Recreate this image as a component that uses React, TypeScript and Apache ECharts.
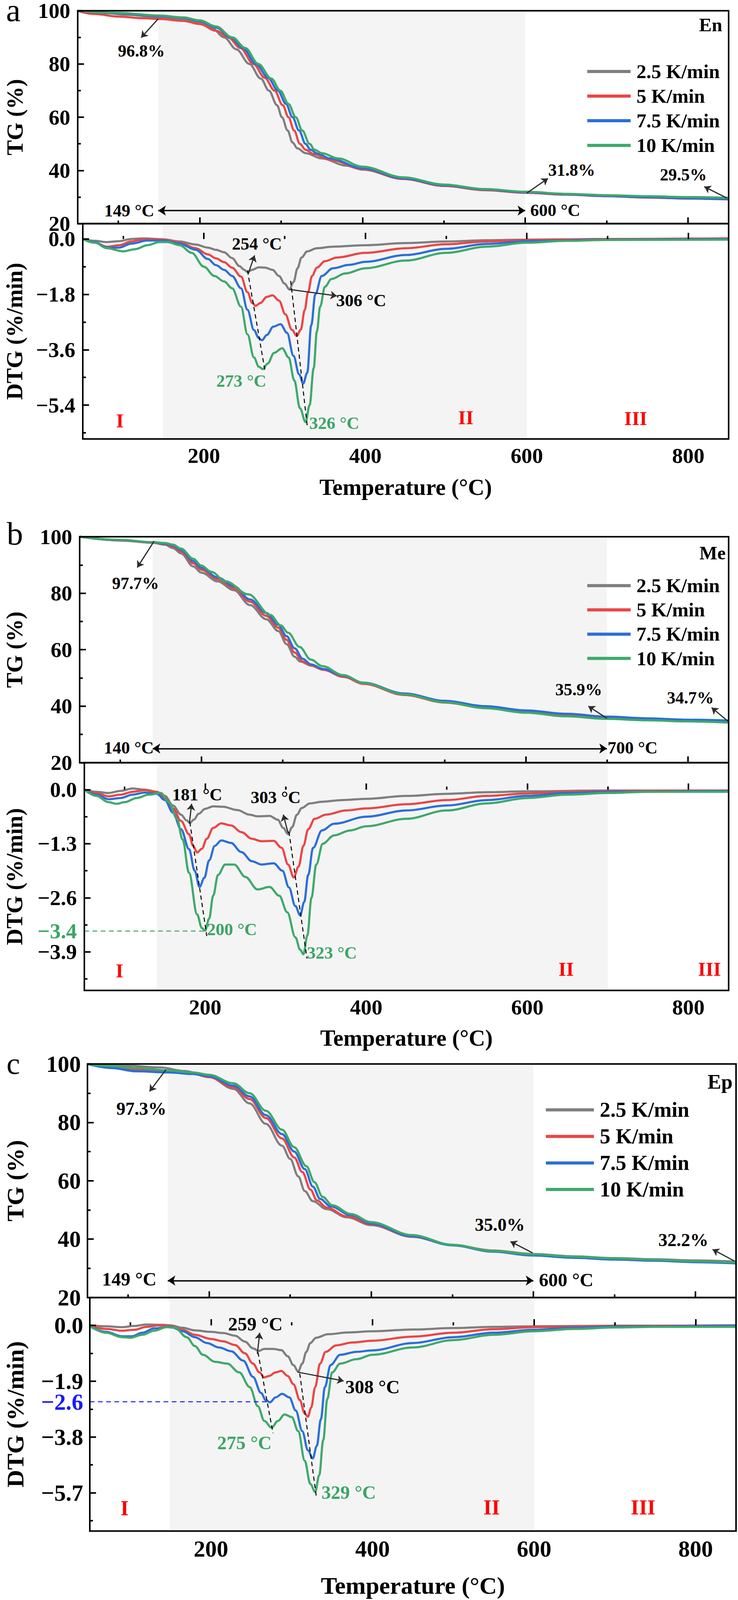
import React, { useEffect, useRef, useState } from "react";
import * as echarts from "echarts";

type Pt = [number, number];

const FONT = '"Times New Roman", "Liberation Serif", "DejaVu Serif", serif';
const REF_W = 1890;
const REF_H = 4221;
const RATES = ["2.5 K/min", "5 K/min", "7.5 K/min", "10 K/min"];
const RATE_COLORS = ["#7f7f7f", "#ec4545", "#2b6fd8", "#3ea96b"];
const GREEN_TXT = "#3aa565";
const X_MAJOR = [200, 400, 600, 800];
const X_MINOR = [100, 300, 500, 700];
const TG_TICKS = { min: 20, max: 100, interval: 20 };

// ---------- En (a) ----------
const EN_TG_25: Pt[] = [[50,100],[80,99.3],[110,98.5],[150,97.6],[180,96.8],[200,95.6],[215,93.5],[230,90],[245,85.5],[261,80],[275,74.5],[285,70],[295,64.5],[301,60],[308,55],[314,50.5],[320,48.3],[330,46.5],[350,44.5],[380,41.8],[400,40.3],[450,36.8],[500,34.2],[550,32.7],[600,31.7],[650,31],[700,30.4],[750,29.9],[800,29.5],[850,29.2]];
const EN_TG_5: Pt[] = [[50,100],[70,98.8],[100,97.8],[130,97.2],[150,96.9],[180,96.2],[200,95],[220,92.5],[235,90],[250,86],[266,80],[280,74.8],[292,70],[302,64.5],[309,60],[316,55],[323,50],[330,47.8],[340,46.2],[360,44],[400,40.5],[450,36.8],[500,34.2],[550,32.6],[600,31.6],[650,30.9],[700,30.3],[750,29.8],[800,29.4],[850,29.1]];
const EN_TG_75: Pt[] = [[50,100],[100,99],[150,98],[180,97.3],[200,96.1],[220,93.7],[238,90],[253,86],[269,80],[284,74.8],[296,70],[306,65],[314,60],[322,55],[330,50],[336,47.8],[345,46.3],[360,44.5],[400,40.8],[450,37],[500,34.4],[550,32.8],[600,31.8],[650,31],[700,30.4],[750,29.9],[800,29.5],[850,29.2]];
const EN_TG_10: Pt[] = [[50,100],[100,99.2],[150,98.2],[180,97.5],[200,96.4],[220,94.1],[240,90],[256,86],[272,80],[288,74.5],[299,70],[309,65],[318,60],[326,55],[335,50],[341,47.8],[350,46.5],[370,44.5],[400,41.4],[450,37.4],[500,34.7],[550,33],[600,32],[650,31.2],[700,30.7],[750,30.3],[800,30],[850,29.7]];

const EN_DTG_25: Pt[] = [[50,0],[65,-0.06],[80,-0.1],[95,-0.07],[110,0],[125,0.02],[150,-0.01],[170,-0.08],[190,-0.18],[205,-0.28],[215,-0.35],[225,-0.43],[235,-0.62],[244,-0.88],[250,-1.0],[254,-1.07],[260,-1.0],[268,-0.92],[276,-0.93],[285,-1.0],[293,-1.2],[300,-1.45],[306,-1.64],[311,-1.4],[316,-0.95],[321,-0.6],[328,-0.4],[340,-0.3],[360,-0.25],[400,-0.2],[450,-0.13],[500,-0.08],[550,-0.04],[600,-0.02],[700,0],[850,0.01]];
const EN_DTG_5: Pt[] = [[50,0],[65,-0.12],[80,-0.25],[95,-0.2],[110,-0.08],[125,-0.01],[140,0],[150,-0.02],[170,-0.12],[190,-0.3],[205,-0.5],[215,-0.63],[225,-0.75],[235,-0.93],[246,-1.22],[254,-1.73],[260,-2.08],[264,-2.17],[270,-2.08],[278,-1.88],[285,-1.83],[293,-2.0],[301,-2.45],[309,-2.95],[315,-3.15],[320,-2.95],[325,-2.3],[329,-1.73],[334,-1.2],[340,-0.93],[350,-0.72],[365,-0.6],[400,-0.45],[450,-0.3],[500,-0.17],[550,-0.08],[600,-0.03],[700,0],[850,0.02]];
const EN_DTG_75: Pt[] = [[50,0],[65,-0.1],[80,-0.28],[95,-0.28],[110,-0.15],[130,-0.05],[150,-0.05],[170,-0.15],[190,-0.35],[205,-0.65],[215,-0.85],[225,-1.0],[235,-1.2],[246,-1.6],[254,-2.3],[262,-2.96],[268,-3.22],[272,-3.29],[278,-3.12],[286,-2.85],[295,-2.77],[303,-3.05],[311,-3.8],[318,-4.4],[323,-4.7],[328,-4.35],[333,-2.8],[338,-1.8],[346,-1.2],[360,-0.95],[380,-0.84],[400,-0.74],[450,-0.52],[500,-0.32],[550,-0.16],[600,-0.07],[700,-0.02],[850,0]];
const EN_DTG_10: Pt[] = [[50,0],[65,-0.12],[80,-0.3],[100,-0.4],[115,-0.33],[130,-0.2],[145,-0.1],[155,-0.1],[170,-0.2],[185,-0.45],[200,-0.9],[213,-1.2],[225,-1.38],[235,-1.6],[246,-2.2],[254,-3.1],[262,-3.85],[268,-4.15],[273,-4.23],[279,-4.05],[287,-3.7],[297,-3.55],[305,-3.85],[312,-4.6],[319,-5.5],[326,-5.95],[331,-5.4],[336,-4.2],[340,-3.0],[344,-2.2],[350,-1.55],[358,-1.3],[375,-1.12],[400,-0.95],[450,-0.7],[500,-0.45],[550,-0.25],[600,-0.12],[650,-0.06],[700,-0.03],[850,-0.02]];
const EN_DTG_MAJOR = [0, -1.8, -3.6, -5.4];
const EN_DTG_MINOR = [-0.9, -2.7, -4.5, -6.3];

// ---------- Me (b) ----------
const ME_TG_25: Pt[] = [[50,100],[100,98.7],[140,97.9],[155,97.2],[165,96],[175,94.1],[190,89.5],[200,87.3],[220,84.2],[240,81.1],[260,75.8],[280,70.8],[295,66.6],[305,62],[315,57.5],[322,55.8],[335,54.4],[350,53],[375,50.5],[400,48],[450,44],[500,41.4],[550,39.5],[600,37.9],[650,36.7],[700,35.8],[750,35.2],[800,34.8],[850,34.5]];
const ME_TG_5: Pt[] = [[50,100],[100,98.7],[140,97.9],[155,97.4],[165,96.5],[175,94.8],[190,90.6],[200,88.3],[220,85],[240,81.8],[260,77],[280,72],[295,67.8],[305,63.5],[315,59],[325,55.8],[335,54.4],[350,52.9],[375,50.4],[400,47.9],[450,44],[500,41.3],[550,39.4],[600,37.8],[650,36.6],[700,35.7],[750,35.1],[800,34.7],[850,34.4]];
const ME_TG_75: Pt[] = [[50,100],[100,98.8],[140,98],[155,97.6],[165,96.9],[175,95.3],[190,91.4],[200,89],[220,85.6],[240,82.5],[260,77.8],[280,73],[295,68.8],[305,64.8],[315,60.5],[325,56.8],[335,54.8],[350,53.2],[375,50.8],[400,48.3],[450,44.5],[500,41.9],[550,40],[600,38.5],[650,37.3],[700,36.3],[750,35.7],[800,35.2],[850,34.9]];
const ME_TG_10: Pt[] = [[50,100],[100,98.9],[140,98.1],[155,97.8],[165,97.2],[175,95.8],[190,92.2],[200,89.8],[212,87.6],[230,84.2],[258,79.6],[285,72.3],[298,68.6],[307,66],[321,61],[335,56.5],[349,54.2],[375,51],[400,48.2],[450,44.2],[500,41.4],[550,39.3],[600,37.7],[650,36.4],[700,35.5],[750,35],[800,34.6],[850,34.2]];

const ME_DTG_25: Pt[] = [[50,0],[65,-0.05],[80,-0.08],[95,-0.03],[110,0.03],[125,0],[140,-0.05],[150,-0.15],[160,-0.38],[170,-0.6],[177,-0.74],[181,-0.8],[186,-0.72],[192,-0.58],[200,-0.46],[210,-0.4],[222,-0.41],[240,-0.49],[255,-0.6],[265,-0.64],[280,-0.63],[290,-0.72],[297,-0.92],[303,-1.07],[308,-0.9],[314,-0.6],[320,-0.44],[330,-0.33],[345,-0.29],[370,-0.25],[400,-0.22],[450,-0.15],[500,-0.1],[550,-0.06],[600,-0.04],[700,-0.02],[850,-0.02]];
const ME_DTG_5: Pt[] = [[50,0],[65,-0.08],[80,-0.16],[95,-0.12],[110,-0.05],[125,-0.01],[140,-0.06],[150,-0.2],[160,-0.45],[170,-0.75],[180,-1.07],[185,-1.35],[190,-1.51],[196,-1.42],[202,-1.18],[210,-0.92],[220,-0.81],[232,-0.86],[245,-1.02],[258,-1.18],[270,-1.24],[285,-1.23],[295,-1.4],[303,-1.8],[310,-2.11],[316,-1.85],[322,-1.35],[328,-0.95],[336,-0.7],[350,-0.6],[375,-0.5],[400,-0.45],[450,-0.35],[500,-0.25],[550,-0.15],[600,-0.09],[650,-0.05],[700,-0.03],[850,-0.02]];
const ME_DTG_75: Pt[] = [[50,0],[65,-0.12],[80,-0.23],[95,-0.2],[110,-0.12],[125,-0.07],[140,-0.1],[150,-0.25],[160,-0.55],[170,-0.95],[180,-1.43],[187,-1.95],[193,-2.34],[199,-2.12],[205,-1.7],[212,-1.35],[220,-1.22],[232,-1.28],[245,-1.5],[258,-1.72],[270,-1.8],[285,-1.77],[296,-1.95],[304,-2.35],[312,-2.8],[318,-3.02],[323,-2.7],[328,-2.05],[334,-1.4],[345,-0.98],[360,-0.82],[400,-0.65],[450,-0.5],[500,-0.38],[550,-0.25],[600,-0.15],[650,-0.08],[700,-0.05],[850,-0.03]];
const ME_DTG_10: Pt[] = [[50,0],[65,-0.15],[80,-0.3],[90,-0.34],[100,-0.3],[115,-0.2],[130,-0.12],[145,-0.08],[155,-0.3],[165,-0.7],[172,-1.2],[180,-2.0],[190,-3.0],[196,-3.33],[200,-3.39],[205,-3.1],[210,-2.55],[216,-2.05],[225,-1.8],[236,-1.8],[250,-2.1],[265,-2.4],[280,-2.34],[292,-2.55],[302,-2.95],[312,-3.55],[318,-3.85],[322,-3.96],[327,-3.5],[332,-2.6],[338,-1.8],[346,-1.3],[360,-1.1],[380,-0.98],[400,-0.88],[450,-0.7],[500,-0.5],[550,-0.33],[600,-0.2],[650,-0.12],[700,-0.08],[750,-0.05],[850,-0.05]];
const ME_DTG_MAJOR = [0, -1.3, -2.6, -3.9];
const ME_DTG_MINOR = [-0.65, -1.95, -3.25, -4.55];

// ---------- Ep (c) ----------
const EP_TG_25: Pt[] = [[50,100],[100,99.4],[140,98.8],[170,97.6],[200,95.6],[230,91.5],[250,86.5],[270,79.5],[290,72],[300,67.5],[310,61.5],[318,56.5],[328,53],[345,50.3],[370,47.5],[400,44.8],[450,40.8],[500,38],[550,36.1],[600,34.9],[650,34.1],[700,33.5],[750,33.1],[800,32.7],[850,32.3]];
const EP_TG_5: Pt[] = [[50,100],[80,98.9],[110,98],[150,97.3],[180,96.6],[200,95.5],[230,92],[250,88],[270,81.5],[290,74.5],[305,68],[315,63],[325,57],[333,53.3],[345,50.8],[370,47.8],[400,45],[450,40.9],[500,38],[550,35.9],[600,34.7],[650,33.9],[700,33.3],[750,32.8],[800,32.3],[850,31.8]];
const EP_TG_75: Pt[] = [[50,100],[80,98.6],[110,97.5],[150,97.1],[180,96.6],[200,95.8],[230,92.6],[250,88.9],[270,82.5],[290,76],[305,70],[318,64],[328,58],[337,53.8],[350,51.2],[375,48.2],[400,45.3],[450,41],[500,37.9],[550,35.7],[600,34.4],[650,33.6],[700,33],[750,32.6],[800,32.1],[850,31.7]];
const EP_TG_10: Pt[] = [[50,100],[80,99.3],[110,98.6],[150,97.8],[180,97.1],[200,96.3],[230,93.4],[250,90],[270,84],[290,77.5],[305,71.5],[320,65],[330,59.5],[340,54.5],[352,51.6],[375,48.6],[400,45.8],[450,41.4],[500,38.1],[550,35.9],[600,34.8],[650,34],[700,33.4],[750,32.9],[800,32.4],[850,32]];

const EP_DTG_25: Pt[] = [[50,0],[70,-0.03],[90,-0.06],[105,-0.02],[120,0.03],[140,0.02],[150,0],[165,-0.08],[180,-0.17],[200,-0.22],[215,-0.26],[230,-0.35],[242,-0.55],[252,-0.78],[259,-0.87],[266,-0.8],[277,-0.8],[287,-0.84],[295,-1.05],[302,-1.35],[308,-1.57],[313,-1.3],[318,-0.9],[323,-0.6],[330,-0.42],[345,-0.3],[370,-0.24],[400,-0.2],[450,-0.14],[500,-0.09],[550,-0.05],[600,-0.03],[700,-0.01],[850,0]];
const EP_DTG_5: Pt[] = [[50,0],[70,-0.12],[90,-0.18],[105,-0.15],[120,-0.05],[135,0],[150,-0.02],[165,-0.15],[180,-0.32],[200,-0.46],[215,-0.54],[230,-0.67],[242,-0.95],[252,-1.3],[260,-1.6],[266,-1.77],[272,-1.72],[280,-1.6],[287,-1.55],[295,-1.72],[302,-2.0],[310,-2.54],[316,-3.0],[320,-3.11],[324,-2.8],[329,-2.1],[335,-1.3],[342,-0.9],[355,-0.68],[375,-0.58],[400,-0.52],[450,-0.38],[500,-0.25],[550,-0.13],[600,-0.06],[700,-0.02],[850,0]];
const EP_DTG_75: Pt[] = [[50,-0.03],[70,-0.22],[90,-0.37],[102,-0.37],[115,-0.25],[130,-0.1],[150,-0.05],[165,-0.2],[180,-0.4],[195,-0.6],[210,-0.75],[225,-0.88],[240,-1.2],[252,-1.75],[262,-2.3],[268,-2.55],[273,-2.62],[280,-2.45],[288,-2.33],[297,-2.45],[305,-2.9],[313,-3.6],[320,-4.25],[326,-4.53],[331,-4.1],[336,-3.2],[341,-2.1],[348,-1.35],[360,-1.0],[380,-0.9],[400,-0.85],[450,-0.6],[500,-0.4],[550,-0.25],[600,-0.15],[650,-0.08],[700,-0.04],[850,-0.01]];
const EP_DTG_10: Pt[] = [[50,-0.03],[70,-0.25],[90,-0.4],[100,-0.42],[115,-0.32],[130,-0.18],[145,-0.06],[155,-0.08],[170,-0.4],[180,-0.7],[190,-1.0],[205,-1.24],[220,-1.3],[235,-1.6],[248,-2.1],[258,-2.75],[266,-3.25],[275,-3.48],[283,-3.25],[291,-3.03],[300,-3.12],[308,-3.6],[316,-4.6],[323,-5.4],[329,-5.67],[334,-5.1],[339,-3.9],[344,-2.5],[350,-1.6],[360,-1.3],[380,-1.15],[400,-1.0],[450,-0.75],[500,-0.5],[550,-0.32],[600,-0.2],[650,-0.12],[700,-0.07],[750,-0.05],[850,-0.05]];
const EP_DTG_MAJOR = [0, -1.9, -3.8, -5.7];
const EP_DTG_MINOR = [-0.95, -2.85, -4.75, -6.65];

// ---------- annotations (data coordinates) ----------
type Seg = [Pt, Pt];
const EN_TG_ARROWS: Seg[] = [[[149, 97.0], [128, 89.9]], [[602, 31.5], [628, 37.0]], [[848, 29.6], [820, 33.9]]];
const EN_RANGE: Seg = [[149, 24.9], [600, 24.9]];
const EN_DTG_ARROWS: Seg[] = [[[255, -1.12], [262.8, -0.53]], [[306.3, -1.64], [364.8, -1.85]]];
const EN_DASHES: Seg[] = [[[254, -1.02], [276, -4.33]], [[307.5, -1.36], [328, -6.07]]];

const ME_TG_ARROWS: Seg[] = [[[141.7, 98.4], [121, 89.1]], [[700, 35.7], [677, 40.0]], [[849.5, 34.6], [829, 39.5]]];
const ME_RANGE: Seg = [[140, 25.0], [700, 25.0]];
const ME_DTG_ARROWS: Seg[] = [[[180.5, -0.8], [183.2, -0.34]], [[303, -1.04], [297, -0.6]]];
const ME_DASHES: Seg[] = [[[181, -0.78], [202, -3.52]], [[304, -1.01], [326.4, -4.06]]];
const ME_LEVEL = { value: -3.4, to: 201 };

const EP_TG_ARROWS: Seg[] = [[[146.8, 98.05], [126.6, 90.6]], [[599, 35.3], [571.7, 39.2]], [[848, 32.5], [821, 36.5]]];
const EP_RANGE: Seg = [[149, 25.8], [600, 25.8]];
const EP_DTG_ARROWS: Seg[] = [[[257.4, -0.97], [260.3, -0.25]], [[307.2, -1.59], [364.3, -1.89]]];
const EP_DASHES: Seg[] = [[[258.2, -0.92], [276.8, -3.67]], [[309.9, -1.64], [330.5, -5.85]]];
const EP_LEVEL = { value: -2.6, to: 271 };

type Txt = { t: string; x: number; y: number; c?: string; s?: number; w?: string; lh?: number };

const fmtDtg = (v: number) => (Math.abs(v) < 1e-9 ? "0.0" : (v < 0 ? "\u2212" : "") + Math.abs(v).toFixed(1));

const PANELS = [
  {
    tg: [EN_TG_25, EN_TG_5, EN_TG_75, EN_TG_10],
    dtg: [EN_DTG_25, EN_DTG_5, EN_DTG_75, EN_DTG_10],
    shade: [149, 600], dtgMin: -6.5, dtgMax: 0.5, major: EN_DTG_MAJOR, minor: EN_DTG_MINOR,
    tgArrows: EN_TG_ARROWS, range: EN_RANGE, dtgArrows: EN_DTG_ARROWS, dashes: EN_DASHES, level: null as any, levelColor: "",
    L: { left: 199, width: 1667, tgTop: 22, tgH: 568, dtgH: 568, tick: 57, nameFont: 60, yMargin: 19, tgGap: 132, dtgGap: 146, xGap: 98, legLeft: 1504, legTop: 156, legW: 111, legFont: 52, legPitch: 65 },
    texts: [
      { t: "a", x: 34, y: 27, s: 86, w: "normal", lh: 44 },
      { t: "En", x: 1820, y: 65, s: 50 },
      { t: "96.8%", x: 362, y: 134, s: 45 },
      { t: "149 \u00B0C", x: 331, y: 555 },
      { t: "600 \u00B0C", x: 1422, y: 554 },
      { t: "31.8%", x: 1464, y: 448, s: 45 },
      { t: "29.5%", x: 1750, y: 461, s: 45 },
      { t: "254 \u00B0C", x: 658, y: 643 },
      { t: "306 \u00B0C", x: 925, y: 792 },
      { t: "273 \u00B0C", x: 618, y: 1005, c: GREEN_TXT },
      { t: "326 \u00B0C", x: 856, y: 1116, c: GREEN_TXT },
      { t: "I", x: 307, y: 1110, c: "#ff0000", s: 52 },
      { t: "II", x: 1193, y: 1102, c: "#ff0000", s: 52 },
      { t: "III", x: 1628, y: 1104, c: "#ff0000", s: 52 },
    ] as Txt[],
  },
  {
    tg: [ME_TG_25, ME_TG_5, ME_TG_75, ME_TG_10],
    dtg: [ME_DTG_25, ME_DTG_5, ME_DTG_75, ME_DTG_10],
    shade: [140, 700], dtgMin: -4.83, dtgMax: 0.65, major: ME_DTG_MAJOR, minor: ME_DTG_MINOR,
    tgArrows: ME_TG_ARROWS, range: ME_RANGE, dtgArrows: ME_DTG_ARROWS, dashes: ME_DASHES, level: ME_LEVEL, levelColor: GREEN_TXT,
    L: { left: 199, width: 1667, tgTop: 1416, tgH: 596, dtgH: 601, tick: 57, nameFont: 60, yMargin: 19, tgGap: 138, dtgGap: 150, xGap: 96, legLeft: 1504, legTop: 1513, legW: 111, legFont: 52, legPitch: 64 },
    texts: [
      { t: "b", x: 38, y: 1408, s: 86, w: "normal", lh: 60 },
      { t: "Me", x: 1825, y: 1459, s: 50 },
      { t: "97.7%", x: 347, y: 1539, s: 45 },
      { t: "140 \u00B0C", x: 330, y: 1972 },
      { t: "700 \u00B0C", x: 1620, y: 1972 },
      { t: "35.9%", x: 1482, y: 1819, s: 45 },
      { t: "34.7%", x: 1768, y: 1841, s: 45 },
      { t: "181 \u00B0C", x: 505, y: 2096 },
      { t: "303 \u00B0C", x: 706, y: 2103 },
      { t: "200 \u00B0C", x: 594, y: 2452, c: GREEN_TXT },
      { t: "323 \u00B0C", x: 850, y: 2513, c: GREEN_TXT },
      { t: "I", x: 306, y: 2561, c: "#ff0000", s: 52 },
      { t: "II", x: 1450, y: 2557, c: "#ff0000", s: 52 },
      { t: "III", x: 1817, y: 2557, c: "#ff0000", s: 52 },
    ] as Txt[],
  },
  {
    tg: [EP_TG_25, EP_TG_5, EP_TG_75, EP_TG_10],
    dtg: [EP_DTG_25, EP_DTG_5, EP_DTG_75, EP_DTG_10],
    shade: [149, 600], dtgMin: -7.0, dtgMax: 0.95, major: EP_DTG_MAJOR, minor: EP_DTG_MINOR,
    tgArrows: EP_TG_ARROWS, range: EP_RANGE, dtgArrows: EP_DTG_ARROWS, dashes: EP_DASHES, level: EP_LEVEL, levelColor: "#1a1aff",
    L: { left: 216, width: 1669, tgTop: 2807, tgH: 616, dtgH: 616, tick: 61, nameFont: 64, yMargin: 17, tgGap: 154, dtgGap: 160, xGap: 112, legLeft: 1398, legTop: 2893, legW: 123, legFont: 56, legPitch: 70 },
    texts: [
      { t: "c", x: 34, y: 2806, s: 80, w: "normal", lh: 56 },
      { t: "Ep", x: 1844, y: 2853, s: 54 },
      { t: "97.3%", x: 362, y: 2925, s: 48 },
      { t: "149 \u00B0C", x: 331, y: 3374, s: 50 },
      { t: "600 \u00B0C", x: 1450, y: 3377, s: 50 },
      { t: "35.0%", x: 1280, y: 3231, s: 48 },
      { t: "32.2%", x: 1750, y: 3271, s: 48 },
      { t: "259 \u00B0C", x: 654, y: 3493, s: 50 },
      { t: "308 \u00B0C", x: 954, y: 3659, s: 50 },
      { t: "275 \u00B0C", x: 626, y: 3806, c: GREEN_TXT, s: 50 },
      { t: "329 \u00B0C", x: 893, y: 3937, c: GREEN_TXT, s: 50 },
      { t: "I", x: 319, y: 3979, c: "#ff0000", s: 56 },
      { t: "II", x: 1259, y: 3977, c: "#ff0000", s: 56 },
      { t: "III", x: 1647, y: 3977, c: "#ff0000", s: 56 },
    ] as Txt[],
  },
];

function arrowItem(seg: Seg, size: number, color = "#2b2b2b", width = 3) {
  return [
    { coord: seg[0], symbol: "none", lineStyle: { color, width, type: "solid" } },
    { coord: seg[1], symbol: "arrow", symbolSize: size },
  ];
}

function buildOption(W: number, H: number) {
  const sx = W / REF_W;
  const sy = H / REF_H;
  const sf = Math.min(sx, sy);
  const X = (v: number) => v * sx;
  const Y = (v: number) => v * sy;
  const F = (v: number) => Math.round(v * sf * 10) / 10;

  const grid: any[] = [];
  const xAxis: any[] = [];
  const yAxis: any[] = [];
  const series: any[] = [];
  const legend: any[] = [];
  const graphic: any[] = [];
  const tickLine = { color: "#000", width: 4 };

  PANELS.forEach((p) => {
    const L = p.L;
    const labelStyle = { fontFamily: FONT, fontWeight: "bold", fontSize: F(L.tick), lineHeight: F(L.tick * 0.62), color: "#000" };
    const nameStyle = { fontFamily: FONT, fontWeight: "bold", fontSize: F(L.nameFont), color: "#000" };
    const gTG = grid.length;
    grid.push({ left: X(L.left), top: Y(L.tgTop), width: X(L.width), height: Y(L.tgH), show: true, borderColor: "#000", borderWidth: 4, backgroundColor: "transparent", z: 10 });
    const gDTG = grid.length;
    grid.push({ left: X(L.left), top: Y(L.tgTop + L.tgH), width: X(L.width), height: Y(L.dtgH), show: true, borderColor: "#000", borderWidth: 4, backgroundColor: "transparent", z: 10 });

    const xIdx: number[] = [];
    [gTG, gDTG].forEach((g) => {
      const isD = g === gDTG;
      xIdx.push(xAxis.length);
      xAxis.push({
        type: "value", gridIndex: g, min: 50, max: 850, position: "bottom", z: 11,
        axisLine: { show: false }, splitLine: { show: false },
        axisTick: { show: true, inside: true, length: 16, customValues: X_MAJOR, lineStyle: tickLine },
        axisLabel: { show: isD, customValues: X_MAJOR, margin: Y(16 + L.tick * 0.19), ...labelStyle },
        name: isD ? "Temperature (\u00B0C)" : "", nameLocation: "middle", nameGap: Y(L.xGap), nameTextStyle: nameStyle,
      });
      xAxis.push({
        type: "value", gridIndex: g, min: 50, max: 850, position: "bottom", z: 11,
        axisLine: { show: false }, splitLine: { show: false }, axisLabel: { show: false },
        axisTick: { show: true, inside: true, length: 8, customValues: X_MINOR, lineStyle: tickLine },
      });
    });

    const yTG = yAxis.length;
    yAxis.push({
      type: "value", gridIndex: gTG, ...TG_TICKS, position: "left", z: 11,
      axisLine: { show: false }, splitLine: { show: false },
      axisTick: { show: true, inside: true, length: 16, lineStyle: tickLine },
      minorTick: { show: true, splitNumber: 2, length: 8, lineStyle: tickLine },
      axisLabel: { margin: X(L.yMargin), ...labelStyle },
      name: "TG (%)", nameLocation: "middle", nameGap: X(L.tgGap), nameTextStyle: nameStyle,
    });
    const yDTG = yAxis.length;
    yAxis.push({
      type: "value", gridIndex: gDTG, min: p.dtgMin, max: p.dtgMax, position: "left", z: 11,
      axisLine: { show: false }, splitLine: { show: false },
      axisTick: { show: true, inside: true, length: 16, customValues: p.major, lineStyle: tickLine },
      axisLabel: { margin: X(L.yMargin), customValues: p.major, formatter: fmtDtg, ...labelStyle },
      name: "DTG (%/min)", nameLocation: "middle", nameGap: X(L.dtgGap), nameTextStyle: nameStyle,
    });
    yAxis.push({
      type: "value", gridIndex: gDTG, min: p.dtgMin, max: p.dtgMax, position: "left", z: 11,
      axisLine: { show: false }, splitLine: { show: false }, axisLabel: { show: false },
      axisTick: { show: true, inside: true, length: 8, customValues: p.minor, lineStyle: tickLine },
    });

    const shadeArea = { silent: true, z: 1, itemStyle: { color: "#f4f4f4" }, data: [[{ xAxis: p.shade[0] }, { xAxis: p.shade[1] }]] };

    const tgMarks = [
      ...p.tgArrows.map((s) => arrowItem(s, F(17))),
      [
        { coord: p.range[0], symbol: "arrow", symbolSize: F(20), lineStyle: { color: "#000", width: 3.5, type: "solid" } },
        { coord: p.range[1], symbol: "arrow", symbolSize: F(20) },
      ],
    ];
    const dtgMarks: any[] = [
      ...p.dtgArrows.map((s) => arrowItem(s, F(17))),
      ...p.dashes.map((s) => [
        { coord: s[0], symbol: "none", lineStyle: { color: "#000", width: 2.5, type: [11, 8] } },
        { coord: s[1], symbol: "none" },
      ]),
    ];
    if (p.level) {
      dtgMarks.push([
        {
          coord: [50, p.level.value], symbol: "none",
          lineStyle: { color: p.levelColor, width: 2.5, type: [12, 9] },
          label: { show: true, position: "start", distance: X(L.yMargin), formatter: fmtDtg(p.level.value), color: p.levelColor, fontFamily: FONT, fontWeight: "bold", fontSize: F(L.tick), lineHeight: F(L.tick * 0.62) },
        },
        { coord: [p.level.to, p.level.value], symbol: "none" },
      ]);
    }

    p.tg.forEach((data, i) => {
      series.push({
        type: "line", name: RATES[i], xAxisIndex: xIdx[0], yAxisIndex: yTG, data,
        showSymbol: false, symbol: "none", smooth: 0.35, smoothMonotone: "x", z: 3 + i,
        lineStyle: { width: 5.5, color: RATE_COLORS[i] }, itemStyle: { color: RATE_COLORS[i] },
        ...(i === 0 ? { markArea: shadeArea, markLine: { silent: true, z: 8, label: { show: false }, data: tgMarks } } : {}),
      });
    });
    p.dtg.forEach((data, i) => {
      series.push({
        type: "line", name: RATES[i], xAxisIndex: xIdx[1], yAxisIndex: yDTG, data,
        showSymbol: false, symbol: "none", smooth: 0.35, smoothMonotone: "x", z: 3 + i,
        lineStyle: { width: 5.5, color: RATE_COLORS[i] }, itemStyle: { color: RATE_COLORS[i] },
        ...(i === 0 ? { markArea: shadeArea, markLine: { silent: true, z: 8, label: { show: false }, data: dtgMarks } } : {}),
      });
    });

    legend.push({
      data: RATES, orient: "vertical", left: X(L.legLeft), top: Y(L.legTop), itemWidth: X(L.legW), itemHeight: 8, itemGap: 0,
      icon: "rect", selectedMode: false, padding: 0, z: 20,
      textStyle: { fontFamily: FONT, fontWeight: "bold", fontSize: F(L.legFont), color: "#000", lineHeight: Y(L.legPitch), padding: [0, 0, 0, 10] },
    });

    p.texts.forEach((tx) => {
      const fs = F(tx.s || 46);
      graphic.push({
        type: "text", x: X(tx.x), y: Y(tx.y), z: 100, silent: true,
        style: { text: tx.t, fill: tx.c || "#000", fontFamily: FONT, fontWeight: tx.w || "bold", fontSize: fs, lineHeight: tx.lh ? F(tx.lh) : fs, align: "center", verticalAlign: "middle" },
      });
    });
  });

  return { animation: false, backgroundColor: "#ffffff", grid, xAxis, yAxis, series, legend, graphic };
}

function viewportSize() {
  const w = document.documentElement.clientWidth || window.innerWidth || REF_W;
  const h = window.innerHeight || document.documentElement.clientHeight || REF_H;
  return {
    w: w > 400 ? Math.min(w, REF_W) : REF_W,
    h: h > 1000 ? Math.min(h, REF_H) : REF_H,
  };
}

export default function App() {
  const ref = useRef<HTMLDivElement>(null);
  const [size] = useState(() => {
    document.body.style.margin = "0";
    document.body.style.overflow = "hidden";
    document.documentElement.style.overflow = "hidden";
    return viewportSize();
  });
  useEffect(() => {
    if (!ref.current) return;
    const chart = echarts.init(ref.current, undefined, { renderer: "svg" });
    chart.setOption(buildOption(size.w, size.h) as any);
    return () => chart.dispose();
  }, [size]);
  return <div ref={ref} style={{ width: size.w, height: size.h }} />;
}
